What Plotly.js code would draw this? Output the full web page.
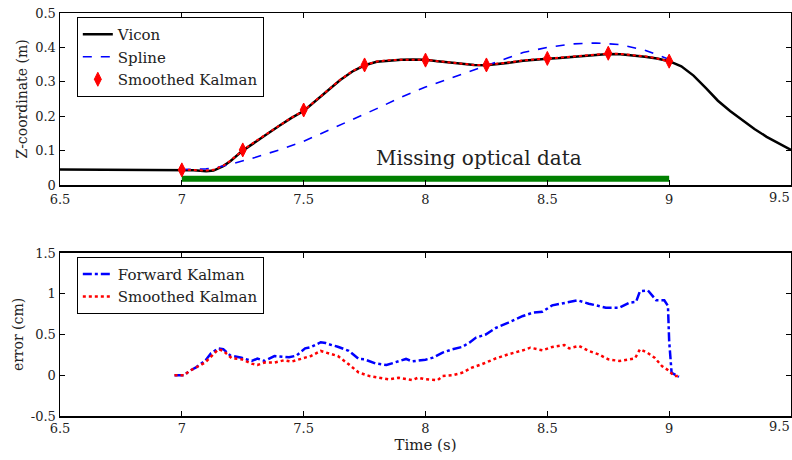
<!DOCTYPE html>
<html>
<head>
<meta charset="utf-8">
<script src="https://cdn.plot.ly/plotly-3.0.1.min.js"></script>
<style>html,body{margin:0;padding:0;background:#fff;}#chart{width:792px;height:460px;}</style>
</head>
<body>
<div id="chart"></div>
<script>
// ---- Top panel: Z-coordinate (m) ----
const viconT = [6.5,6.9,7.0,7.05,7.1,7.13,7.17,7.2,7.25,7.3,7.35,7.4,7.45,7.5,7.55,7.6,7.65,7.7,7.75,7.8,7.85,7.9,7.95,8.0,8.05,8.1,8.15,8.2,8.25,8.3,8.35,8.4,8.45,8.5,8.55,8.6,8.65,8.7,8.75,8.8,8.85,8.9,8.95,9.0,9.05,9.1,9.15,9.2,9.25,9.3,9.35,9.4,9.45,9.5];
const viconZ = [0.045,0.045,0.045,0.043,0.040,0.042,0.055,0.070,0.100,0.125,0.148,0.172,0.195,0.215,0.245,0.275,0.305,0.330,0.348,0.358,0.362,0.364,0.365,0.364,0.360,0.356,0.352,0.349,0.348,0.351,0.356,0.361,0.365,0.367,0.369,0.372,0.376,0.379,0.381,0.380,0.377,0.373,0.368,0.360,0.345,0.318,0.282,0.245,0.215,0.188,0.163,0.140,0.120,0.102];

const splineT = [7.0,7.05,7.1,7.15,7.2,7.3,7.4,7.5,7.6,7.7,7.8,7.9,8.0,8.1,8.2,8.3,8.4,8.5,8.6,8.7,8.8,8.9,9.0,9.02];
const splineZ = [0.045,0.045,0.047,0.052,0.060,0.080,0.102,0.127,0.158,0.190,0.222,0.255,0.285,0.310,0.335,0.360,0.385,0.400,0.410,0.413,0.408,0.392,0.365,0.360];

const smoothLineT = [7.0,7.05,7.1,7.13,7.17,7.2,7.25,7.3,7.35,7.4,7.45,7.5,7.55,7.6,7.65,7.7,7.75,7.8,7.85,7.9,7.95,8.0,8.05,8.1,8.15,8.2,8.25,8.3,8.35,8.4,8.45,8.5,8.55,8.6,8.65,8.7,8.75,8.8,8.85,8.9,8.95,9.0,9.02];
const smoothLineZ = [0.045,0.044,0.042,0.044,0.056,0.071,0.101,0.126,0.149,0.173,0.196,0.216,0.246,0.276,0.306,0.331,0.349,0.359,0.363,0.364,0.365,0.364,0.360,0.356,0.352,0.349,0.349,0.352,0.357,0.362,0.366,0.368,0.370,0.373,0.377,0.380,0.382,0.381,0.378,0.374,0.368,0.360,0.356];

const smoothMarkT = [7.0,7.25,7.5,7.75,8.0,8.25,8.5,8.75,9.0];
const smoothMarkZ = [0.044,0.102,0.218,0.349,0.363,0.349,0.368,0.383,0.360];

const missingT = [7.0,9.0];
const missingZ = [0.018,0.018];

// ---- Bottom panel: error (cm) ----
const fwdT = [6.97,7.01,7.03,7.06,7.095,7.12,7.15,7.17,7.2,7.245,7.287,7.31,7.34,7.38,7.44,7.47,7.506,7.53,7.57,7.59,7.615,7.64,7.685,7.726,7.75,7.794,7.84,7.875,7.92,7.945,7.97,8.0,8.03,8.07,8.11,8.15,8.18,8.206,8.247,8.288,8.34,8.40,8.44,8.48,8.52,8.577,8.625,8.67,8.74,8.795,8.837,8.864,8.88,8.913,8.947,8.98,8.995,9.0,9.01,9.04];
const fwdE = [0,0,0.05,0.10,0.175,0.27,0.33,0.32,0.24,0.215,0.175,0.205,0.175,0.235,0.22,0.24,0.33,0.345,0.405,0.395,0.37,0.35,0.30,0.20,0.195,0.145,0.125,0.16,0.20,0.17,0.18,0.19,0.216,0.277,0.318,0.347,0.40,0.46,0.50,0.58,0.645,0.727,0.767,0.78,0.857,0.886,0.919,0.878,0.829,0.829,0.89,0.90,1.03,1.04,0.92,0.92,0.85,0.42,0.03,-0.02];

const smErrT = [6.97,7.01,7.03,7.095,7.15,7.17,7.205,7.245,7.287,7.31,7.34,7.38,7.42,7.45,7.506,7.53,7.57,7.59,7.615,7.64,7.685,7.726,7.77,7.81,7.85,7.89,7.945,7.97,8.0,8.05,8.07,8.11,8.15,8.19,8.23,8.29,8.34,8.40,8.43,8.48,8.52,8.57,8.59,8.63,8.67,8.71,8.75,8.795,8.837,8.86,8.88,8.91,8.94,8.97,9.0,9.02,9.04];
const smErrE = [0,0,0.05,0.155,0.318,0.30,0.208,0.196,0.142,0.126,0.155,0.155,0.184,0.167,0.216,0.236,0.298,0.28,0.265,0.236,0.134,0.033,-0.01,-0.03,-0.05,-0.03,-0.06,-0.03,-0.05,-0.06,-0.01,0.0,0.03,0.093,0.134,0.208,0.257,0.306,0.338,0.306,0.347,0.371,0.33,0.36,0.298,0.257,0.196,0.175,0.196,0.208,0.318,0.277,0.216,0.114,0.053,-0.01,-0.01];

const xTicks = [6.5,7,7.5,8,8.5,9,9.5];
const xTickText = ['6.5','7','7.5','8','8.5','9','9.5'];
const yTopTicks = [0,0.1,0.2,0.3,0.4,0.5];
const yTopText = ['0','0.1','0.2','0.3','0.4','0.5'];
const yBotTicks = [-0.5,0,0.5,1,1.5];
const yBotText = ['-0.5','0','0.5','1','1.5'];

const SERIF = 'DejaVu Serif, serif';
const TXT = '#222';

// last x tick label sits at the right edge; drawn right-aligned so it stays inside the page
const lastIdx = xTicks.length - 1;
const xTickTextAxis = xTickText.map((t, i) => i === lastIdx ? '' : t);

const traces = [
  {x: missingT, y: missingZ, xaxis:'x', yaxis:'y', mode:'lines', line:{color:'#008000', width:6}, showlegend:false, hoverinfo:'skip'},
  {x: viconT, y: viconZ, xaxis:'x', yaxis:'y', mode:'lines', name:'Vicon', line:{color:'#000000', width:2.5}, legend:'legend'},
  {x: splineT, y: splineZ, xaxis:'x', yaxis:'y', mode:'lines', name:'Spline', line:{color:'#0000ff', width:1.6, dash:'dash'}, legend:'legend'},
  {x: smoothLineT, y: smoothLineZ, xaxis:'x', yaxis:'y', mode:'lines', line:{color:'#ff0000', width:2, dash:'dot'}, showlegend:false, hoverinfo:'skip'},
  {x: smoothMarkT, y: smoothMarkZ, xaxis:'x', yaxis:'y', mode:'markers', name:'Smoothed Kalman', marker:{symbol:'diamond-tall', color:'#ff0000', size:10, line:{color:'#ff0000', width:1}}, legend:'legend'},
  {x: fwdT, y: fwdE, xaxis:'x2', yaxis:'y2', mode:'lines', name:'Forward Kalman', line:{color:'#0000ff', width:2.5, dash:'dashdot'}, legend:'legend2'},
  {x: smErrT, y: smErrE, xaxis:'x2', yaxis:'y2', mode:'lines', name:'Smoothed Kalman', line:{color:'#ff0000', width:2.5, dash:'dot'}, legend:'legend2'}
];

const axBase = {
  showgrid:false, zeroline:false, showline:true, linecolor:'#000', linewidth:1.5, mirror:'allticks',
  ticks:'inside', ticklen:5, tickwidth:1, tickcolor:'#000',
  tickfont:{family:SERIF, size:13, color:TXT}
};

const layout = {
  width:792, height:460,
  margin:{l:60, r:1, t:13, b:44},
  paper_bgcolor:'#fff', plot_bgcolor:'#fff',
  font:{family:SERIF, color:TXT},
  xaxis: Object.assign({}, axBase, {domain:[0,1], range:[6.5,9.5], tickvals:xTicks, ticktext:xTickTextAxis, anchor:'y', ticklabelstandoff:2}),
  yaxis: Object.assign({}, axBase, {domain:[0.5732,1], range:[0,0.5], tickvals:yTopTicks, ticktext:yTopText, anchor:'x',
          title:{text:'Z-coordinate (m)', font:{family:SERIF, size:14, color:TXT}, standoff:4}}),
  xaxis2: Object.assign({}, axBase, {domain:[0,1], range:[6.5,9.5], tickvals:xTicks, ticktext:xTickTextAxis, anchor:'y2', ticklabelstandoff:0,
          title:{text:'Time (s)', font:{family:SERIF, size:15, color:TXT}, standoff:0}}),
  yaxis2: Object.assign({}, axBase, {domain:[0,0.4045], range:[-0.5,1.5], tickvals:yBotTicks, ticktext:yBotText, anchor:'x2',
          title:{text:'error (cm)', font:{family:SERIF, size:14, color:TXT}, standoff:4}}),
  legend:{x:0.023, y:0.99, xanchor:'left', yanchor:'top', bgcolor:'#fff', bordercolor:'#000', borderwidth:1,
          font:{family:SERIF, size:15, color:TXT}, tracegroupgap:0, itemwidth:30},
  legend2:{x:0.023, y:0.395, xanchor:'left', yanchor:'top', bgcolor:'#fff', bordercolor:'#000', borderwidth:1,
          font:{family:SERIF, size:15, color:TXT}, tracegroupgap:0, itemwidth:30},
  annotations:[
    {x:8.22, y:0.078, xref:'x', yref:'y', text:'Missing optical data', showarrow:false,
     font:{family:SERIF, size:20, color:TXT}},
    {x:xTicks[lastIdx], y:yTopTicks[0], xref:'x', yref:'y', text:xTickText[lastIdx], showarrow:false,
     xanchor:'right', yanchor:'top', xshift:1, yshift:-3, font:{family:SERIF, size:13, color:TXT}},
    {x:xTicks[lastIdx], y:yBotTicks[0], xref:'x2', yref:'y2', text:xTickText[lastIdx], showarrow:false,
     xanchor:'right', yanchor:'top', xshift:1, yshift:-1, font:{family:SERIF, size:13, color:TXT}}
  ]
};

Plotly.newPlot('chart', traces, layout, {displayModeBar:false, staticPlot:true});
</script>
</body>
</html>
